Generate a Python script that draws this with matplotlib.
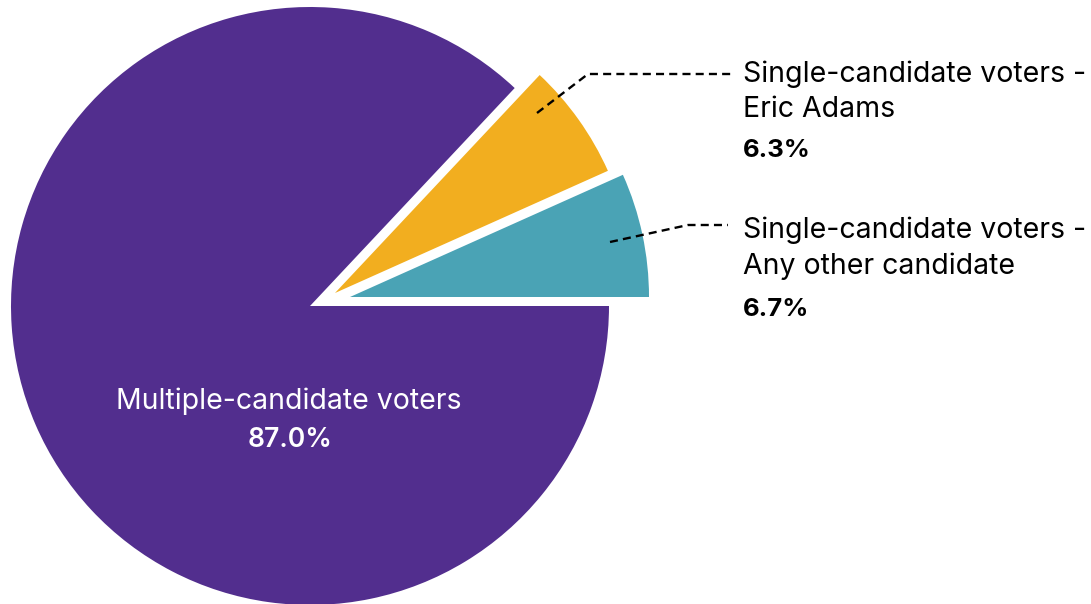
import matplotlib
matplotlib.use("Agg")
import matplotlib.pyplot as plt

# ---- data ----
categories = ["Single-candidate voters -\nAny other candidate",
              "Single-candidate voters -\nEric Adams",
              "Multiple-candidate voters"]
shares = [6.7, 6.3, 87.0]
colors = ["#4aa3b5", "#f2ae1f", "#522e8e"]

W, H = 1091, 604
fig = plt.figure(figsize=(W / 100, H / 100), dpi=100)
ax = fig.add_axes([0, 0, 1, 1])

cx, cy, R = 310, 306, 299
wedges, _ = ax.pie(shares, colors=colors, startangle=0,
                   counterclock=False, radius=R, center=(cx, cy),
                   wedgeprops=dict(linewidth=0))
# pulled-out slices (layout offsets, in pixels)
offsets = [(40, -9), (25, -13), (0, 0)]
for w, (dx, dy) in zip(wedges, offsets):
    w.set_center((cx + dx, cy + dy))

ax.set_xlim(0, W)
ax.set_ylim(H, 0)
ax.set_aspect("auto")
ax.axis("off")

plt.rcParams["font.family"] = ["Inter", "DejaVu Sans"]
fs = 20.5
fsb = 18.5
dash = dict(color="black", lw=1.7, linestyle=(0, (3.4, 2.2)))

# leader lines (layout)
ax.plot([537, 588, 731], [113, 74, 74], **dash)
ax.plot([610, 688, 728], [242, 225, 225], **dash)

tx = 743
ax.text(tx, 82, "Single-candidate voters -", fontsize=fs, va="baseline", ha="left")
ax.text(tx, 117, "Eric Adams", fontsize=fs, va="baseline", ha="left")
ax.text(tx, 157, f"{shares[1]:.1f}%", fontsize=fsb, fontweight="bold", va="baseline", ha="left")

ax.text(tx, 238, "Single-candidate voters -", fontsize=fs, va="baseline", ha="left")
ax.text(tx, 274, "Any other candidate", fontsize=fs, va="baseline", ha="left")
ax.text(tx, 316, f"{shares[0]:.1f}%", fontsize=fsb, fontweight="bold", va="baseline", ha="left")

ax.text(289, 409, categories[2], fontsize=fs, color="white", va="baseline", ha="center")
ax.text(290, 447, f"{shares[2]:.1f}%", fontsize=fsb + 0.5, color="white", fontweight="semibold",
        va="baseline", ha="center")

fig.savefig("out.png", dpi=100)
